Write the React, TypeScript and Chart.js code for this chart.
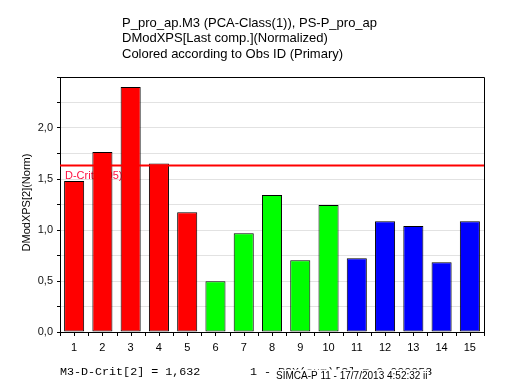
import React, { useEffect, useRef } from "react";
import { Chart, registerables } from "chart.js";

Chart.register(...registerables);

const categories: string[] = ["1", "2", "3", "4", "5", "6", "7", "8", "9", "10", "11", "12", "13", "14", "15"];
const values: number[] = [1.48, 1.764, 2.403, 1.652, 1.175, 0.498, 0.969, 1.342, 0.704, 1.244, 0.724, 1.087, 1.038, 0.684, 1.087];
const groups: string[] = ["r", "r", "r", "r", "r", "g", "g", "g", "g", "g", "b", "b", "b", "b", "b"];
const groupColors: Record<string, string> = { r: "#ff0000", g: "#00ff00", b: "#0000ff" };
const dCrit = 1.632;
const dCritLabel = "D-Crit(0.05)";
const yMax = 2.5;
const titleLines: string[] = [
  "P_pro_ap.M3 (PCA-Class(1)), PS-P_pro_ap",
  "DModXPS[Last comp.](Normalized)",
  "Colored according to Obs ID (Primary)",
];
const yTitle = "DModXPS[2](Norm)";
const footLeft = "M3-D-Crit[2] = 1,632";
const footMid = "1 - R2X(cum)[2] = 0,000058";
const footStamp = "SIMCA-P 11 - 17/7/2013 4:52:32 ii";

const SANS = "Arial, 'Liberation Sans', sans-serif";
const MONO = "'Courier New', 'Liberation Mono', monospace";

export default function App() {
  const ref = useRef<HTMLCanvasElement | null>(null);

  useEffect(() => {
    if (!ref.current) return;
    const decor = {
      id: "decor",
      beforeDatasetsDraw(chart: any) {
        const { ctx } = chart;
        const y = chart.scales.y;
        const a = chart.chartArea;
        ctx.save();
        ctx.fillStyle = "#ff1040";
        ctx.font = `11px ${SANS}`;
        ctx.textBaseline = "middle";
        ctx.textAlign = "left";
        ctx.fillText(dCritLabel, a.left + 5, y.getPixelForValue(dCrit) + 10);
        ctx.restore();
      },
      afterDatasetsDraw(chart: any) {
        const { ctx } = chart;
        const y = chart.scales.y;
        const a = chart.chartArea;
        ctx.save();
        ctx.strokeStyle = "#ff0000";
        ctx.lineWidth = 2;
        const yy = y.getPixelForValue(dCrit);
        ctx.beginPath();
        ctx.moveTo(a.left, yy);
        ctx.lineTo(a.right, yy);
        ctx.stroke();
        ctx.restore();
      },
      afterDraw(chart: any) {
        const { ctx } = chart;
        const x = chart.scales.x;
        const a = chart.chartArea;
        ctx.save();
        // frame top/right
        ctx.strokeStyle = "#000";
        ctx.lineWidth = 1;
        ctx.beginPath();
        ctx.moveTo(Math.round(a.left) + 0.5, Math.round(a.top) + 0.5);
        ctx.lineTo(Math.round(a.right) + 0.5, Math.round(a.top) + 0.5);
        ctx.lineTo(Math.round(a.right) + 0.5, Math.round(a.bottom) + 0.5);
        ctx.stroke();
        // x tick marks at centres and boundaries
        const half = (a.right - a.left) / categories.length / 2;
        ctx.beginPath();
        for (let i = 0; i < categories.length; i++) {
          const c = x.getPixelForValue(i);
          for (const p of [c - half, c]) {
            const px = Math.round(p) + 0.5;
            ctx.moveTo(px, a.bottom);
            ctx.lineTo(px, a.bottom + 4);
          }
        }
        const pr = Math.round(a.right) + 0.5;
        ctx.moveTo(pr, a.bottom);
        ctx.lineTo(pr, a.bottom + 4);
        ctx.stroke();
        // title
        ctx.fillStyle = "#000";
        ctx.font = `13px ${SANS}`;
        ctx.textBaseline = "middle";
        ctx.textAlign = "left";
        titleLines.forEach((t, i) => ctx.fillText(t, 122, 23 + i * 15.5));
        // y title
        ctx.save();
        ctx.translate(27, (a.top + a.bottom) / 2 - 2);
        ctx.rotate(-Math.PI / 2);
        ctx.textAlign = "center";
        ctx.font = `11px ${SANS}`;
        ctx.fillText(yTitle, 0, 0);
        ctx.restore();
        // footer
        ctx.font = `11.7px ${MONO}`;
        ctx.textAlign = "left";
        ctx.fillStyle = "#000";
        ctx.fillText(footLeft, a.left, 372);
        ctx.fillText(footMid, 250, 372);
        ctx.font = `10px ${SANS}`;
        const w = ctx.measureText(footStamp).width;
        ctx.fillStyle = "#fff";
        ctx.fillRect(275, 369.5, w + 2, 12);
        ctx.fillStyle = "#000";
        ctx.fillText(footStamp, 276, 376);
        ctx.restore();
      },
    };

    const chart = new Chart(ref.current, {
      type: "bar",
      data: {
        labels: categories,
        datasets: [
          {
            data: values,
            backgroundColor: groups.map((g) => groupColors[g]),
            borderColor: "#000",
            borderWidth: 1,
            borderSkipped: false,
            barPercentage: 0.71,
            categoryPercentage: 1,
          },
        ],
      },
      options: {
        responsive: false,
        animation: false,
        layout: { padding: { top: 77, right: 29, left: 0, bottom: 0 } },
        plugins: { legend: { display: false }, title: { display: false }, tooltip: { enabled: false } },
        scales: {
          x: {
            grid: { display: false, drawTicks: false },
            border: { display: true, color: "#000", width: 1 },
            ticks: { color: "#000", font: { family: SANS, size: 11 }, padding: 9, maxRotation: 0, autoSkip: false },
            afterFit: (s: any) => {
              s.height = 57;
            },
          },
          y: {
            min: 0,
            max: yMax,
            grid: { color: "#e2e2e2", tickColor: "#000", tickLength: 3, drawTicks: true },
            border: { display: true, color: "#000", width: 1 },
            ticks: {
              stepSize: 0.25,
              autoSkip: false,
              color: "#111",
              padding: 4,
              font: { family: SANS, size: 11 },
              callback: (v: any) => {
                const n = Number(v);
                if (n >= yMax - 1e-6) return "";
                if (Math.abs(n * 2 - Math.round(n * 2)) > 1e-6) return "";
                return n.toFixed(1).replace(".", ",");
              },
            },
            afterFit: (s: any) => {
              s.width = 60;
            },
          },
        },
      },
      plugins: [decor],
    });
    return () => chart.destroy();
  }, []);

  return (
    <div style={{ position: "fixed", left: 0, top: 0, width: 513, height: 389, background: "#fff" }}>
      <canvas ref={ref} width={513} height={389} style={{ display: "block" }} />
    </div>
  );
}
